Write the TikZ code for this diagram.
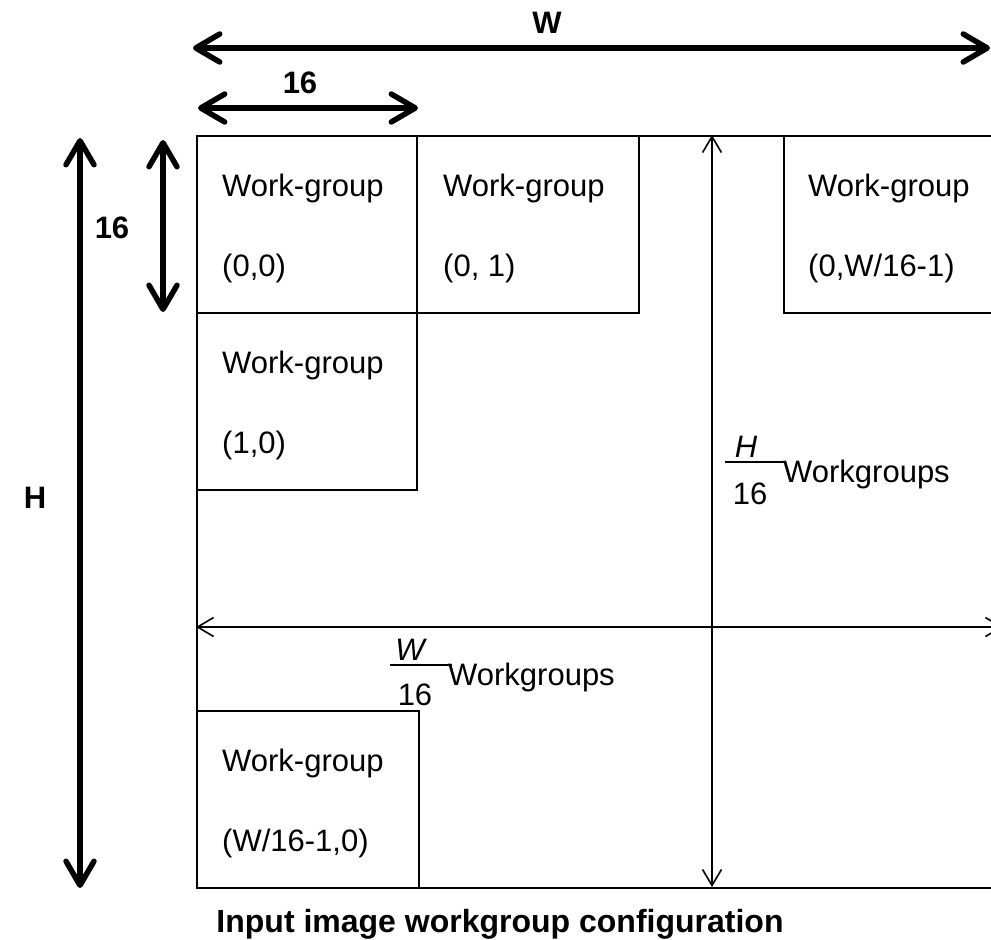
\documentclass[tikz,border=0pt]{standalone}
\usepackage{fontspec}
\setmainfont{Liberation Sans}
\usetikzlibrary{arrows.meta}
\begin{document}
\begin{tikzpicture}[x=1pt,y=-1pt,
  cell/.style={draw, line width=2pt, rectangle, inner sep=0pt, anchor=north west},
  txt/.style={font=\fontsize{31}{37}\selectfont, inner sep=0pt, anchor=base west},
  dimtxt/.style={font=\fontsize{31}{37}\selectfont\bfseries, inner sep=0pt, anchor=base},
  titletxt/.style={font=\fontsize{32}{38}\selectfont\bfseries, inner sep=0pt, anchor=base},
  fractxt/.style={font=\fontsize{31}{37}\selectfont, inner sep=0pt, anchor=base},
  bigdim/.style={line width=5.5pt, {Straight Barb[length=24pt,width=28pt,line cap=round,line join=round]}-{Straight Barb[length=24pt,width=28pt,line cap=round,line join=round]}},
  thindim/.style={line width=1.6pt, {Straight Barb[length=16pt,width=19pt]}-{Straight Barb[length=16pt,width=19pt]}},
  fracbar/.style={line width=2pt},
]
\useasboundingbox (0,0) rectangle (991,940);
\begin{scope}
\clip (0,0) rectangle (991,940);

% image frame and work-group cells
\node[cell, minimum width=900pt, minimum height=752pt] (frame) at (196,135) {};
\node[cell, minimum width=220pt, minimum height=177pt] (c00) at (196,135) {};
\node[cell, minimum width=222pt, minimum height=177pt] (c01) at (416,135) {};
\node[cell, minimum width=300pt, minimum height=177pt] (c0n) at (783,135) {};
\node[cell, minimum width=220pt, minimum height=177pt] (c10) at (196,312) {};
\node[cell, minimum width=222pt, minimum height=177pt] (cn0) at (196,710) {};

% cell captions
\node[txt] (t00a) at (222,196) {Work-group};
\node[txt] (t00b) at (222,276) {(0,0)};
\node[txt] (t01a) at (443,196) {Work-group};
\node[txt] (t01b) at (443,276) {(0, 1)};
\node[txt] (t0na) at (808,196) {Work-group};
\node[txt] (t0nb) at (808,276) {(0,W/16-1)};
\node[txt] (t10a) at (222,373) {Work-group};
\node[txt] (t10b) at (222,453) {(1,0)};
\node[txt] (tn0a) at (222,771) {Work-group};
\node[txt] (tn0b) at (222,851) {(W/16-1,0)};

% work-group count dimensions
\coordinate (vtop) at (712,135);
\coordinate (vbot) at (712,887);
\coordinate (hleft) at (196,627);
\coordinate (hright) at (1003,627);
\draw[thindim] (vtop) -- (vbot);
\draw[thindim] (hleft) -- (hright);

% H/16 Workgroups
\node[fractxt] (hnum) at (746,457) {\itshape H};
\node[fractxt] (hden) at (750,504) {16};
\coordinate (hbarL) at (725,462);
\coordinate (hbarR) at (785,462);
\draw[fracbar] (hbarL) -- (hbarR);
\node[txt] (hwg) at (783,482) {Workgroups};

% W/16 Workgroups
\node[fractxt] (wnum) at (410,660) {\itshape W};
\node[fractxt] (wden) at (415,705) {16};
\coordinate (wbarL) at (390,665);
\coordinate (wbarR) at (452,665);
\draw[fracbar] (wbarL) -- (wbarR);
\node[txt] (wwg) at (448,685) {Workgroups};

% pixel dimensions
\coordinate (wl) at (193,48);
\coordinate (wr) at (990,48);
\draw[bigdim] (wl) -- (wr);
\node[dimtxt] (wlab) at (547,33) {W};

\coordinate (sl) at (198,108);
\coordinate (sr) at (418,108);
\draw[bigdim] (sl) -- (sr);
\node[dimtxt] (slab) at (300,93) {16};

\coordinate (st) at (163,140);
\coordinate (sb) at (163,312);
\draw[bigdim] (st) -- (sb);
\node[dimtxt] (svlab) at (112,238) {16};

\coordinate (ht) at (80,138);
\coordinate (hb) at (80,888);
\draw[bigdim] (ht) -- (hb);
\node[dimtxt] (hlab) at (35,508) {H};

% caption
\node[titletxt] (title) at (500,932) {Input image workgroup configuration};
\end{scope}
\end{tikzpicture}
\end{document}
